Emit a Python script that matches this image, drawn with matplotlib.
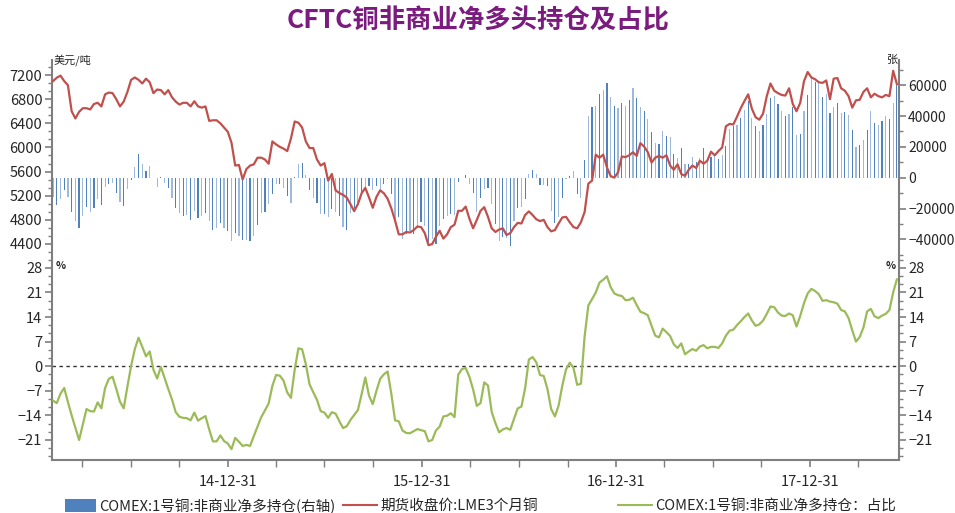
import matplotlib
matplotlib.use('Agg')
import matplotlib.pyplot as plt
import matplotlib.dates as mdates
from matplotlib.ticker import AutoMinorLocator, FixedLocator
from matplotlib.patches import Patch
from matplotlib.lines import Line2D
import pandas as pd

plt.rcParams['font.family'] = ['Noto Sans CJK SC', 'DejaVu Sans']

# ---------------- data (weekly) ----------------
dates = pd.date_range('2014-02-04', periods=228, freq='7D')

net_long = [
    -12255, -17630, -13975, -7955, -12255, -21930, -28380, -32680, -25155, -18705,
    -21930, -19780, -13975, -17630, -5805, -4085, -3655, -9675, -15480, -18060,
    -7525, -1505, 7095, 15265, 8815, 4515, 7525, -430, -5805, 645,
    -3225, -6880, -13330, -19780, -23005, -25155, -24080, -27305, -21285, -26230,
    -25155, -23005, -28380, -33755, -32680, -29455, -32680, -34830, -41280, -35905,
    -38055, -40205, -40205, -41280, -38055, -30530, -23005, -21930, -17200, -10500,
    -3870, -4300, -6450, -11825, -16125, 500, 9030, 9675, 1720, -8170,
    -12900, -16340, -23650, -23220, -25370, -20425, -21930, -24725, -32250, -33970,
    -22575, -19350, -17200, -9675, -6450, -5375, -8170, -5375, -8170, -4300,
    -1075, -10750, -27520, -25800, -39775, -36550, -34400, -36550, -32680, -29025,
    -31175, -41925, -39775, -43000, -31175, -26875, -24725, -23650, -24080, -2580,
    -430, 1505, -3870, -9675, -21930, -12900, -7525, -6880, -17200, -30100,
    -40850, -38700, -39130, -44075, -27950, -19350, -18920, -13975, 2580, 4730,
    2580, -4730, -4730, -5375, -21500, -29670, -25370, -12900, -1075, 1075,
    4300, -10750, -13330, 11825, 39775, 45580, 46655, 54180, 56975, 61275,
    52675, 46225, 45150, 48375, 46870, 50525, 58050, 52030, 45580, 43430,
    38270, 29670, 22575, 21930, 30530, 26875, 26230, 15480, 12900, 19350,
    8600, 9030, 13330, 10320, 12900, 19350, 12900, 13330, 13975, 12470,
    15050, 20425, 31820, 33325, 34400, 38700, 44075, 49880, 38700, 33325,
    30530, 34400, 41280, 52030, 53320, 47730, 43000, 39775, 41280, 45795,
    27520, 28380, 43430, 53750, 64500, 62350, 61275, 52675, 54180, 41925,
    45580, 48375, 41925, 42570, 40420, 31175, 19780, 21500, 24725, 31175,
    43430, 35475, 33970, 36980, 39775, 38270, 48375, 62000,
]

lme_price = [
    7100, 7155, 7190, 7100, 7030, 6600, 6480, 6590, 6650, 6650,
    6630, 6720, 6740, 6680, 6880, 6910, 6900, 6800, 6680, 6760,
    6920, 7120, 7160, 7120, 7060, 7140, 7080, 6900, 6960, 6950,
    6880, 6950, 6830, 6760, 6710, 6740, 6740, 6680, 6765, 6680,
    6660, 6680, 6440, 6450, 6450, 6400, 6330, 6260, 6080, 5700,
    5710, 5470, 5640, 5700, 5720, 5830, 5830, 5800, 5730, 6100,
    6050, 6010, 5980, 5940, 6150, 6430, 6410, 6330, 6100, 5990,
    5990, 5800, 5700, 5740, 5450, 5560, 5290, 5245, 5215, 5170,
    5060, 4945, 5060, 5240, 5330, 5170, 5000, 5180, 5290, 5240,
    5150, 4990, 4790, 4560, 4560, 4600, 4590, 4630, 4690, 4680,
    4580, 4380, 4400, 4520, 4620, 4490, 4560, 4680, 4720, 4950,
    4950, 5020, 4820, 4660, 4800, 4950, 5010, 4850, 4660, 4600,
    4640, 4660, 4550, 4580, 4680, 4750, 4740, 4880, 4940, 4880,
    4810, 4780, 4800, 4680, 4610, 4630, 4740, 4840, 4850, 4760,
    4680, 4660, 4760, 4930, 5400, 5450, 5880, 5830, 5880, 5670,
    5525, 5500, 5590, 5850, 5840, 5870, 5920, 5860, 6070, 6015,
    5920, 5750, 5830, 5860, 5830, 5870, 5700, 5630, 5720, 5560,
    5530, 5630, 5700, 5660, 5780, 5730, 5780, 5930, 5870, 5940,
    6000, 6350, 6390, 6380, 6510, 6650, 6770, 6880, 6640, 6500,
    6460, 6560, 6850, 7060, 6940, 6900, 6870, 6860, 6980, 6720,
    6600, 6740, 7095, 7250, 7160, 7130, 7080, 7070, 7110, 6800,
    7140, 7150, 6980, 6940, 6850, 6660, 6780, 6790, 6920, 6980,
    6830, 6890, 6850, 6830, 6870, 6850, 7270, 7050,
]

net_long_pct = [
    -9.8, -10.5, -7.8, -6.2, -10.2, -14.0, -17.5, -21.0, -16.6, -12.2,
    -12.8, -12.9, -10.3, -12.0, -6.2, -3.6, -3.0, -6.4, -10.1, -12.0,
    -5.8, 0.1, 4.9, 8.1, 5.5, 2.8, 4.2, -1.0, -3.5, -0.2,
    -3.4, -6.5, -9.5, -13.1, -14.4, -14.7, -14.8, -15.4, -13.2, -15.5,
    -14.8, -14.2, -18.0, -21.4, -21.4, -19.7, -21.3, -22.0, -23.6, -20.4,
    -21.5, -22.7, -22.4, -22.7, -19.9, -17.2, -14.5, -12.6, -10.6, -5.6,
    -2.5, -2.7, -4.1, -7.5, -9.0, -1.0, 5.1, 4.8, 0.6, -5.2,
    -7.4, -9.6, -12.8, -13.2, -14.7, -13.1, -13.5, -15.6, -17.6, -17.1,
    -15.3, -13.9, -12.5, -8.0, -3.2, -8.4, -10.8, -7.0, -3.6, -2.3,
    -1.5, -7.9, -15.4, -15.7, -18.3, -19.0, -19.1, -18.5, -17.9, -18.2,
    -18.5, -21.4, -21.0, -18.3, -17.2, -14.3, -14.1, -13.4, -14.5, -2.4,
    -0.8, -0.5, -3.0, -6.6, -11.3, -10.5, -4.6, -5.5, -13.0, -16.2,
    -18.8, -18.0, -17.6, -18.1, -15.0, -12.0, -11.5, -6.2, 1.9, 2.6,
    1.1, -2.5, -2.8, -6.5, -12.2, -14.3, -11.2, -5.5, -0.9, 1.0,
    -0.5, -5.3, -5.0, 8.5, 17.3, 19.1, 21.0, 23.8, 24.6, 25.6,
    22.5, 20.7, 20.2, 20.0, 18.8, 18.9, 19.5, 17.4, 15.5, 15.1,
    14.5, 11.5, 8.7, 8.2, 10.7, 9.7, 8.6, 6.2, 5.2, 6.5,
    3.4, 4.2, 4.9, 4.4, 5.6, 6.0, 5.1, 5.5, 5.5, 5.2,
    6.5, 8.7, 10.1, 10.4, 11.7, 12.8, 14.0, 15.0, 13.0, 11.5,
    11.9, 13.0, 14.9, 17.0, 16.8, 15.3, 14.4, 14.3, 15.0, 14.5,
    11.3, 14.3, 17.9, 20.7, 22.0, 21.4, 20.5, 18.6, 18.8, 18.4,
    18.2, 17.8, 16.0, 15.6, 13.7, 10.2, 7.0, 8.3, 11.0, 15.6,
    16.3, 14.2, 13.7, 14.4, 14.9, 16.0, 21.0, 24.7,
]

year_ticks = ['2014-12-31', '2015-12-31', '2016-12-31', '2017-12-31']
quarter_ticks = ['2014-03-31', '2014-06-30', '2014-09-30',
                 '2015-03-31', '2015-06-30', '2015-09-30',
                 '2016-03-31', '2016-06-30', '2016-09-30',
                 '2017-03-31', '2017-06-30', '2017-09-30',
                 '2018-03-31']

title = 'CFTC铜非商业净多头持仓及占比'
label_bar = 'COMEX:1号铜:非商业净多持仓(右轴)'
label_price = '期货收盘价:LME3个月铜'
label_pct = 'COMEX:1号铜:非商业净多持仓：占比'

# ---------------- styling ----------------
BLUE = '#4F81BD'
BLUE_LIGHT = '#9DB9DD'
RED = '#C0504D'
GREEN = '#9BBB59'
SPINE = '#7F7F7F'
TXT = '#262626'

W, H = 955, 513
fig = plt.figure(figsize=(W / 100, H / 100), dpi=100)
L, R = 52, 899
ax1 = fig.add_axes([L / W, 1 - 258 / H, (R - L) / W, (258 - 60) / H])
ax1r = ax1.twinx()
ax2 = fig.add_axes([L / W, 1 - 460 / H, (R - L) / W, (460 - 258) / H], sharex=ax1)
ax2r = ax2.twinx()

# bars on right axis, line on left axis (line drawn on top)
bar_colors = [BLUE if k % 2 else BLUE_LIGHT for k in range(len(net_long))]
ax1r.bar(dates, net_long, width=2.2, color=bar_colors, linewidth=0, zorder=2)
ax1.plot(dates, lme_price, color=RED, lw=1.6, zorder=3)
ax1.set_zorder(ax1r.get_zorder() + 1)
ax1.patch.set_visible(False)

ax2.plot(dates, net_long_pct, color=GREEN, lw=1.6, zorder=3)
ax2.axhline(0, color='#333333', lw=1.0, ls=(0, (2.5, 2.5)), zorder=2)

# limits
xmin = pd.Timestamp('2014-02-02')
xmax = pd.Timestamp('2018-06-16')
ax1.set_xlim(xmin, xmax)
ax1.set_ylim(4168, 7449)
ax1r.set_ylim(-52100, 76400)
ax2.set_ylim(-26.7, 30.8)
ax2r.set_ylim(-26.7, 30.8)

# y ticks
ax1.set_yticks(range(4400, 7201, 400))
ax1.yaxis.set_minor_locator(AutoMinorLocator(3))
ax1r.set_yticks(range(-40000, 60001, 20000))
ax1r.yaxis.set_minor_locator(AutoMinorLocator(2))
pct_ticks = [-21, -14, -7, 0, 7, 14, 21, 28]
for a in (ax2, ax2r):
    a.set_yticks(pct_ticks)
    a.yaxis.set_minor_locator(AutoMinorLocator(3))

# x ticks
ax2.xaxis.set_major_locator(FixedLocator([mdates.date2num(pd.Timestamp(d)) for d in year_ticks]))
ax2.xaxis.set_minor_locator(FixedLocator([mdates.date2num(pd.Timestamp(d)) for d in quarter_ticks]))
ax2.xaxis.set_major_formatter(mdates.DateFormatter('%y-%m-%d'))

for a in (ax1, ax1r, ax2, ax2r):
    for s in a.spines.values():
        s.set_visible(False)
    a.tick_params(axis='both', which='major', length=5, width=1.2, color=SPINE,
                  labelsize=10.5, labelcolor=TXT, pad=2)
    a.tick_params(axis='both', which='minor', length=3, width=1.0, color=SPINE)

ax1r.tick_params(axis='y', which='major', labelsize=10, pad=1.5)

ax1.spines['left'].set_visible(True)
ax1r.spines['right'].set_visible(True)
ax2.spines['left'].set_visible(True)
ax2.spines['bottom'].set_visible(True)
ax2r.spines['right'].set_visible(True)
for a, side in ((ax1, 'left'), (ax1r, 'right'), (ax2, 'left'), (ax2, 'bottom'), (ax2r, 'right')):
    a.spines[side].set_color(SPINE)
    a.spines[side].set_linewidth(1.5)

for a in (ax1, ax1r, ax2r):
    a.tick_params(axis='x', which='both', bottom=False, top=False, labelbottom=False)
ax2.tick_params(axis='x', which='major', length=5, pad=6, labelsize=10.5)
ax2.tick_params(axis='x', which='minor', length=5)

# unit labels
ax1.text(0.002, 1.0, '美元/吨', transform=ax1.transAxes, ha='left', va='center',
         fontsize=8, color=TXT)
ax1r.text(0.998, 1.0, '张', transform=ax1r.transAxes, ha='right', va='center',
          fontsize=8, color=TXT)
ax2.text(0.004, 0.96, '%', transform=ax2.transAxes, ha='left', va='center',
         fontsize=7.5, color=TXT, fontweight='bold')
ax2r.text(0.996, 0.96, '%', transform=ax2r.transAxes, ha='right', va='center',
          fontsize=7.5, color=TXT, fontweight='bold')

# title
fig.text(478 / W, 1 - 21 / H, title, ha='center', va='center', fontsize=19,
         fontweight='bold', color='#7B1A7F')

# legends
leg_y = 1 - 506 / H
kw = dict(loc='center left', frameon=False, fontsize=10.5, borderaxespad=0,
          borderpad=0, handletextpad=0.25, labelcolor=TXT)
fig.legend(handles=[Patch(facecolor=BLUE, edgecolor='none')], labels=[label_bar],
           bbox_to_anchor=(65 / W, leg_y), handlelength=2.1, handleheight=0.95, **kw)
fig.legend(handles=[Line2D([], [], color=RED, lw=1.5)], labels=[label_price],
           bbox_to_anchor=(343 / W, leg_y), handlelength=2.3, **kw)
fig.legend(handles=[Line2D([], [], color=GREEN, lw=1.5)], labels=[label_pct],
           bbox_to_anchor=(618 / W, leg_y), handlelength=2.3, **kw)

fig.savefig('out.png', dpi=100)
